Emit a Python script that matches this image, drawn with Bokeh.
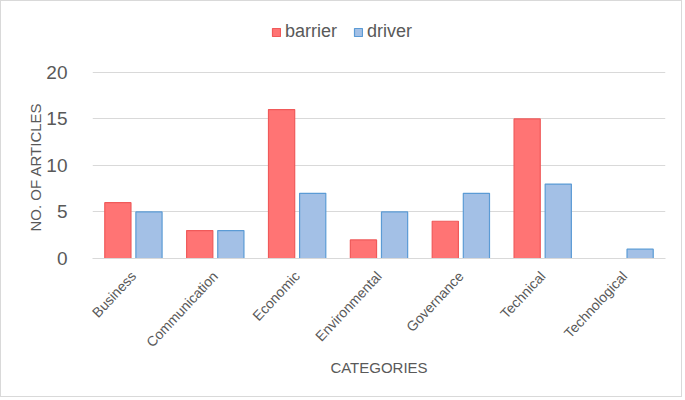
import math
from bokeh.plotting import figure
from bokeh.models import ColumnDataSource, Legend, LegendItem, FactorRange, Title
from bokeh.transform import dodge
from bokeh.embed import file_html
from bokeh.resources import INLINE

categories = ["Business", "Communication", "Economic", "Environmental",
              "Governance", "Technical", "Technological"]
barrier = [6, 3, 16, 2, 4, 15, 0]
driver = [5, 3, 7, 5, 7, 8, 1]
y_ticks = [0, 5, 10, 15, 20]

FONT = "Liberation Sans"
GREY = "#595959"

b_cats = [c for c, v in zip(categories, barrier) if v > 0]
b_vals = [v for v in barrier if v > 0]
src_b = ColumnDataSource(dict(cat=b_cats, val=b_vals))
src_d = ColumnDataSource(dict(cat=categories, val=driver))

p = figure(width=682, height=397, x_range=FactorRange(*categories), y_range=(0, 26),
           output_backend="svg", toolbar_location=None,
           min_border_left=91, min_border_right=18, min_border_top=15,
           min_border_bottom=140)
p.styles = {"border": "1px solid #d9d9d9"}
p.outline_line_color = None

rb = p.vbar(x=dodge("cat", -0.19, range=p.x_range), top="val", width=0.32, source=src_b,
            fill_color="#ff7474", line_color="#f05a5a", line_width=1.2)
rd = p.vbar(x=dodge("cat", 0.19, range=p.x_range), top="val", width=0.32, source=src_d,
            fill_color="#a3c0e6", line_color="#5b9bd5", line_width=1.2)

p.yaxis.ticker = y_ticks
p.yaxis.axis_line_color = None
p.yaxis.major_tick_line_color = None
p.yaxis.minor_tick_line_color = None
p.yaxis.major_label_text_font = FONT
p.yaxis.major_label_text_font_size = "19px"
p.yaxis.major_label_text_color = GREY
p.yaxis.major_label_standoff = 19

ytitle = Title(text="NO. OF ARTICLES", align="left", offset=27,
               text_font=FONT, text_font_size="15px", text_font_style="normal",
               text_color=GREY, standoff=0)
p.add_layout(ytitle, "left")

p.xaxis.axis_line_color = "#d9d9d9"
p.xaxis.major_tick_line_color = None
p.xaxis.minor_tick_line_color = None
p.xaxis.major_label_orientation = 0.82
p.xaxis.major_label_text_font = FONT
p.xaxis.major_label_text_font_size = "14px"
p.xaxis.major_label_text_color = GREY
p.xaxis.major_label_standoff = 9
p.xaxis.axis_label = "CATEGORIES"
p.xaxis.axis_label_text_font = FONT
p.xaxis.axis_label_text_font_size = "15px"
p.xaxis.axis_label_text_font_style = "normal"
p.xaxis.axis_label_text_color = GREY
p.xaxis.axis_label_standoff = 0

p.xgrid.grid_line_color = None
p.ygrid.grid_line_color = "#d9d9d9"
p.ygrid.grid_line_width = 1.2
p.ygrid.ticker = y_ticks

legend = Legend(items=[LegendItem(label="barrier", renderers=[rb]),
                       LegendItem(label="driver", renderers=[rd])],
                orientation="horizontal", location=(179, 216),
                label_text_font=FONT, label_text_font_size="18px",
                label_text_color=GREY, glyph_width=10, glyph_height=10,
                label_standoff=4, spacing=16, border_line_color=None,
                background_fill_alpha=0, padding=0, margin=0)
p.add_layout(legend, "center")

open("out.html", "w").write(file_html(p, INLINE))
